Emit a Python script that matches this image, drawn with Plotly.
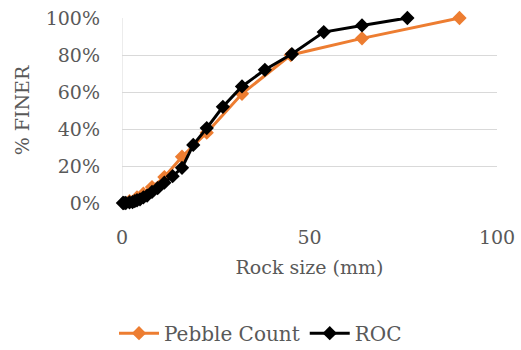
import plotly.graph_objects as go

# Pebble count data (size mm, % finer)
pebble_size = [2, 4, 5.7, 8, 11.3, 16, 22.6, 32, 45, 64, 90]
pebble_finer = [0.01, 0.03, 0.05, 0.086, 0.14, 0.25, 0.38, 0.59, 0.80, 0.89, 1.00]

# ROC data
roc_size = [0.25, 0.5, 1, 2, 2.8, 3.4, 4, 4.8, 5.7, 6.7, 8, 9.5, 11.3, 13.5, 16,
            19, 22.6, 26.9, 32, 38.1, 45.3, 53.8, 64, 76.1]
roc_finer = [0.0, 0.0, 0.0, 0.003, 0.005, 0.01, 0.015, 0.02, 0.03, 0.04, 0.06, 0.08, 0.11, 0.145, 0.19,
             0.314, 0.405, 0.52, 0.63, 0.72, 0.805, 0.924, 0.96, 1.00]

x_ticks = [0, 50, 100]
y_ticks = [0, 0.2, 0.4, 0.6, 0.8, 1.0]

FONT = "DejaVu Serif"
TXT = "#595959"
GRID = "#d9d9d9"

fig = go.Figure()
fig.add_trace(go.Scatter(
    x=pebble_size, y=pebble_finer, name="Pebble Count", mode="lines+markers",
    line=dict(color="#ed7d31", width=3),
    marker=dict(symbol="diamond", size=11, color="#ed7d31"),
    cliponaxis=False,
))
fig.add_trace(go.Scatter(
    x=roc_size, y=roc_finer, name="ROC", mode="lines+markers",
    line=dict(color="#000000", width=3),
    marker=dict(symbol="diamond", size=11, color="#000000"),
    cliponaxis=False,
))

fig.update_layout(
    width=521, height=350,
    margin=dict(l=122, r=24, t=18, b=147, autoexpand=False),
    paper_bgcolor="white", plot_bgcolor="white",
    font=dict(family=FONT, color=TXT, size=19),
    showlegend=True,
    legend=dict(orientation="h", xref="container", yref="container",
                x=0.5, xanchor="center", y=0.048, yanchor="middle",
                font=dict(size=20, color=TXT, family=FONT), itemwidth=40,
                traceorder="normal"),
    xaxis=dict(range=[0, 100], tickvals=x_ticks, showgrid=False, zeroline=False,
               showline=False, ticks="", tickfont=dict(size=19), automargin=False,
               ticklabelstandoff=21,
               title=dict(text="Rock size (mm)", font=dict(size=19), standoff=13)),
    yaxis=dict(range=[0, 1.0], tickvals=y_ticks, tickformat=".0%", showgrid=True,
               gridcolor=GRID, gridwidth=1, zeroline=False, showline=False,
               automargin=False,
               ticks="", tickfont=dict(size=19), ticklabelstandoff=21,
               title=dict(text="% FINER", font=dict(size=19), standoff=11)),
)
fig.add_shape(type="line", xref="x", yref="paper", x0=0, x1=0, y0=0, y1=1,
              line=dict(color=GRID, width=1), layer="below")

fig.write_html("out.html")
